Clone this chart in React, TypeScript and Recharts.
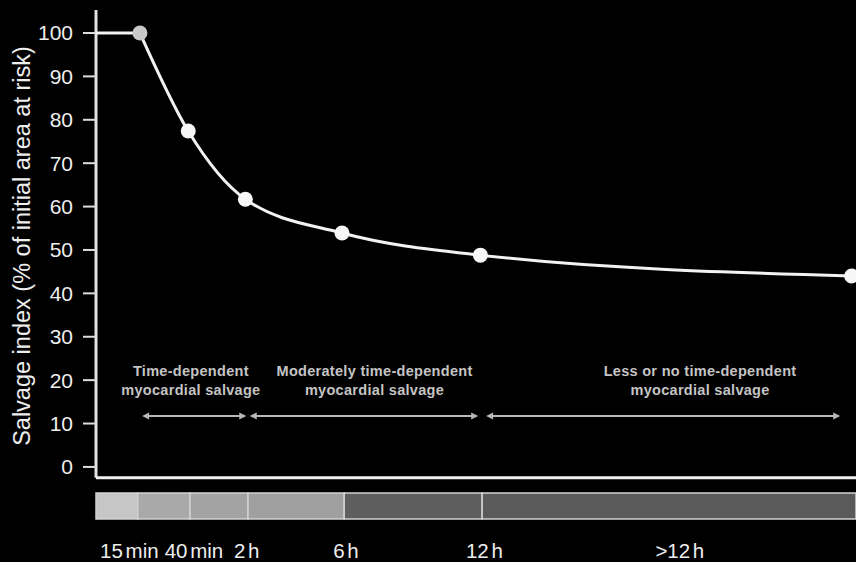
import React from "react";
import {
  ComposedChart,
  Line,
  XAxis,
  YAxis,
  ReferenceArea,
  ReferenceLine,
  ReferenceDot,
} from "recharts";

// position of each time point on the (non-linear) time axis
const timePos = [0, 1.0, 2.1, 3.4, 5.6, 8.75, 17.2];
const salvage = [100, 100, 77.4, 61.7, 53.9, 48.8, 44.0];

const timeLabels = ["15 min", "40 min", "2 h", "6 h", "12 h", ">12 h"];
const labelPos = [0.76, 2.23, 3.43, 5.69, 8.84, 13.29];

const bandEdges = [0, 0.95, 2.14, 3.46, 5.65, 8.79, 17.3];
const bandShades = ["#c6c6c6", "#a9a9a9", "#a3a3a3", "#9f9f9f", "#5e5e5e", "#5a5a5a"];

const phaseText = [
  ["Time-dependent", "myocardial salvage"],
  ["Moderately time-dependent", "myocardial salvage"],
  ["Less or no time-dependent", "myocardial salvage"],
];
const phaseCenter = [2.16, 6.34, 13.75];
const phaseFrom = [1.05, 3.5, 8.88];
const phaseTo = [3.42, 8.7, 16.94];

const yTicks = [0, 10, 20, 30, 40, 50, 60, 70, 80, 90, 100];

const FONT = "'Liberation Sans', Arial, Helvetica, sans-serif";

const points = timePos.map((t, i) => ({ t, v: salvage[i] }));
const leadIn = points.slice(0, 2);
const curve = points.slice(1);

const SalvageDot = (props: any) => {
  const { cx, cy, index } = props;
  return (
    <circle
      key={`d${index}`}
      cx={cx}
      cy={cy}
      r={7.5}
      fill={index === 0 ? "#c9c9c9" : "#f7f7f7"}
      stroke="none"
    />
  );
};

const TimeTick = (props: any) => {
  const { x, y, payload } = props;
  const i = labelPos.indexOf(payload.value);
  return (
    <text
      x={x}
      y={y + 39}
      textAnchor="middle"
      fill="#eeeeee"
      fontSize={20.5}
      fontFamily={FONT}
      wordSpacing={-3}
    >
      {timeLabels[i]}
    </text>
  );
};

const ArrowShape = (p: any) => {
  const { x1, y1, x2, y2 } = p;
  const h = 7;
  const w = 3.5;
  const c = "#b8b8b8";
  return (
    <g>
      <line x1={x1 + 2} y1={y1} x2={x2 - 2} y2={y2} stroke={c} strokeWidth={2} />
      <polygon points={`${x1},${y1} ${x1 + h},${y1 - w} ${x1 + h},${y1 + w}`} fill={c} />
      <polygon points={`${x2},${y2} ${x2 - h},${y2 - w} ${x2 - h},${y2 + w}`} fill={c} />
    </g>
  );
};

const phaseLabel = (lines: string[]) => (p: any) => (
  <g>
    {lines.map((s, k) => (
      <text
        key={s}
        x={p.cx}
        y={p.cy + k * 19}
        textAnchor="middle"
        fill="#c4c4c4"
        fontSize={14.5}
        fontWeight="bold"
        fontFamily={FONT}
        letterSpacing={0.3}
      >
        {s}
      </text>
    ))}
  </g>
);

const YTitle = (props: any) => {
  const { viewBox } = props;
  const cx = viewBox.x + 22;
  const cy = viewBox.y + 236;
  return (
    <text
      transform={`translate(${cx},${cy}) rotate(-90)`}
      textAnchor="middle"
      dominantBaseline="central"
      fill="#eeeeee"
      fontSize={23.5}
      fontFamily={FONT}
    >
      Salvage index (% of initial area at risk)
    </text>
  );
};

export default function App() {
  return (
    <div
      style={{
        position: "absolute",
        left: 0,
        top: 0,
        width: 856,
        height: 562,
        background: "#000",
        overflow: "hidden",
      }}
    >
      <ComposedChart
        width={856}
        height={562}
        margin={{ top: 10, right: 0, bottom: 0, left: 0 }}
      >
        <XAxis
          dataKey="t"
          type="number"
          domain={[0, 17.3]}
          ticks={labelPos}
          interval={0}
          axisLine={false}
          tickLine={false}
          tickSize={0}
          tickMargin={0}
          height={43}
          tick={<TimeTick />}
          allowDataOverflow
        />
        <YAxis
          type="number"
          domain={[-12, 105.3]}
          ticks={yTicks}
          interval={0}
          width={96}
          axisLine={false}
          tickSize={13}
          tickMargin={10}
          tickLine={{ stroke: "#dddddd", strokeWidth: 2 }}
          tick={{ fill: "#eeeeee", fontSize: 21, fontFamily: FONT }}
          allowDataOverflow
          label={<YTitle />}
        />

        {bandShades.map((shade, i) => (
          <ReferenceArea
            key={`band${i}`}
            x1={bandEdges[i]}
            x2={bandEdges[i + 1]}
            y1={-12}
            y2={-6}
            fill={shade}
            fillOpacity={1}
            stroke="#d2d2d2"
            strokeWidth={1.5}
          />
        ))}

        <ReferenceLine
          segment={[
            { x: 0, y: -2.5 },
            { x: 0, y: 105.3 },
          ]}
          stroke="#e2e2e2"
          strokeWidth={3}
        />
        <ReferenceLine
          segment={[
            { x: 0, y: -2.5 },
            { x: 17.3, y: -2.5 },
          ]}
          stroke="#f0f0f0"
          strokeWidth={3}
        />

        {phaseText.map((lines, i) => (
          <ReferenceLine
            key={`arrow${i}`}
            segment={[
              { x: phaseFrom[i], y: 11.75 },
              { x: phaseTo[i], y: 11.75 },
            ]}
            shape={ArrowShape}
          />
        ))}
        {phaseText.map((lines, i) => (
          <ReferenceDot
            key={`phase${i}`}
            x={phaseCenter[i]}
            y={21}
            r={0}
            shape={phaseLabel(lines)}
          />
        ))}

        <Line
          data={leadIn}
          type="linear"
          dataKey="v"
          stroke="#f2f2f2"
          strokeWidth={3}
          dot={false}
          activeDot={false}
          isAnimationActive={false}
        />
        <Line
          data={curve}
          type="monotone"
          dataKey="v"
          stroke="#f2f2f2"
          strokeWidth={3}
          dot={SalvageDot}
          activeDot={false}
          isAnimationActive={false}
        />
      </ComposedChart>
    </div>
  );
}
